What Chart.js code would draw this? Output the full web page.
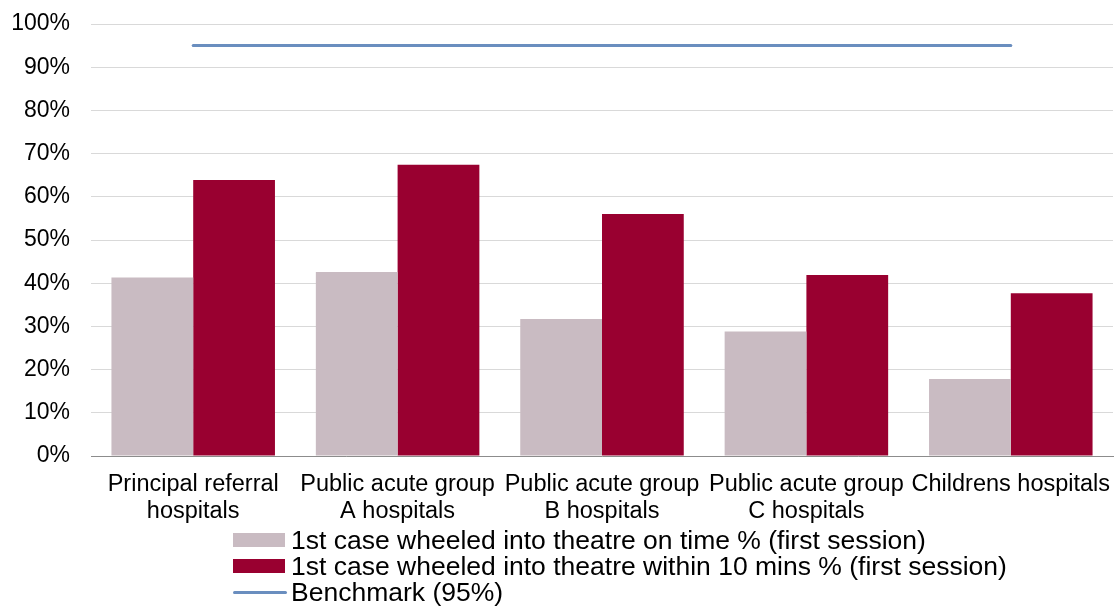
<!DOCTYPE html>
<html>
<head>
<meta charset="utf-8">
<script src="https://cdn.jsdelivr.net/npm/chart.js@4.4.1/dist/chart.umd.min.js"></script>
<style>
  html, body { margin: 0; padding: 0; background: #ffffff; }
  #wrap { position: relative; width: 1115px; height: 606px; }
  #chart { display: block; }
  #legend {
    position: absolute; left: 233px; top: 527px;
    font-family: "Liberation Sans", Arial, sans-serif; font-size: 26.5px; color: #000;
  }
  .item { display: flex; align-items: center; height: 26px; white-space: nowrap; }
  .swatch { width: 52px; height: 14px; margin-right: 6px; flex: none; }
  .lineSwatch { width: 54px; height: 3px; margin-right: 4px; border-radius: 2px; flex: none; }
</style>
</head>
<body>
<div id="wrap">
  <canvas id="chart" width="1115" height="606"></canvas>
  <div id="legend"></div>
</div>
<script>
const categories = [
  ["Principal referral", "hospitals"],
  ["Public acute group", "A hospitals"],
  ["Public acute group", "B hospitals"],
  ["Public acute group", "C hospitals"],
  ["Childrens hospitals"]
];
const onTimePct = [41.3, 42.6, 31.7, 28.8, 17.8];
const within10Pct = [63.9, 67.4, 56.0, 41.9, 37.7];
const benchmarkPct = [95, 95, 95, 95, 95];
const yTicks = [0, 10, 20, 30, 40, 50, 60, 70, 80, 90, 100];

const FONT = "'Liberation Sans', Arial, sans-serif";

// Builds the legend below the chart from the chart's own datasets
const htmlLegend = {
  id: 'htmlLegend',
  afterUpdate(chart) {
    const box = document.getElementById('legend');
    box.innerHTML = '';
    chart.data.datasets.forEach(ds => {
      const row = document.createElement('div');
      row.className = 'item';
      const sw = document.createElement('span');
      if (ds.type === 'line') {
        sw.className = 'lineSwatch';
        sw.style.background = ds.borderColor;
      } else {
        sw.className = 'swatch';
        sw.style.background = ds.backgroundColor;
      }
      const txt = document.createElement('span');
      txt.textContent = ds.label;
      row.appendChild(sw);
      row.appendChild(txt);
      box.appendChild(row);
    });
  }
};

new Chart(document.getElementById('chart'), {
  data: {
    labels: categories,
    datasets: [
      {
        type: 'bar',
        label: '1st case wheeled into theatre on time % (first session)',
        data: onTimePct,
        backgroundColor: '#c9bbc2',
        categoryPercentage: 0.8,
        barPercentage: 1.0,
        order: 2
      },
      {
        type: 'bar',
        label: '1st case wheeled into theatre within 10 mins % (first session)',
        data: within10Pct,
        backgroundColor: '#990030',
        categoryPercentage: 0.8,
        barPercentage: 1.0,
        order: 2
      },
      {
        type: 'line',
        label: 'Benchmark (95%)',
        data: benchmarkPct,
        borderColor: '#6a8ebf',
        borderWidth: 3,
        borderCapStyle: 'round',
        pointRadius: 0,
        fill: false,
        order: 1
      }
    ]
  },
  options: {
    responsive: false,
    animation: false,
    layout: { padding: { top: 24, right: 2, left: 0, bottom: 0 } },
    plugins: {
      legend: { display: false },
      tooltip: { enabled: false },
      title: { display: false }
    },
    scales: {
      x: {
        grid: { display: false, drawTicks: false },
        border: { display: true, color: '#8c8c8c', width: 1 },
        ticks: {
          color: '#000',
          font: { family: FONT, size: 23.5, lineHeight: 1.15 },
          padding: 15,
          maxRotation: 0,
          autoSkip: false
        },
        afterFit(scale) {
          scale.height = 150;
          scale.paddingLeft = 0;
          scale.paddingRight = 0;
        }
      },
      y: {
        min: 0,
        max: 100,
        afterBuildTicks(scale) { scale.ticks = yTicks.map(v => ({ value: v })); },
        grid: { color: '#d9d9d9', lineWidth: 1, drawTicks: false },
        border: { display: false },
        ticks: {
          color: '#000',
          font: { family: FONT, size: 23 },
          padding: 21,
          callback: v => v + '%'
        },
        afterFit(scale) {
          scale.width = 91;
          scale.paddingTop = 0;
          scale.paddingBottom = 0;
        }
      }
    }
  },
  plugins: [htmlLegend]
});
</script>
</body>
</html>
